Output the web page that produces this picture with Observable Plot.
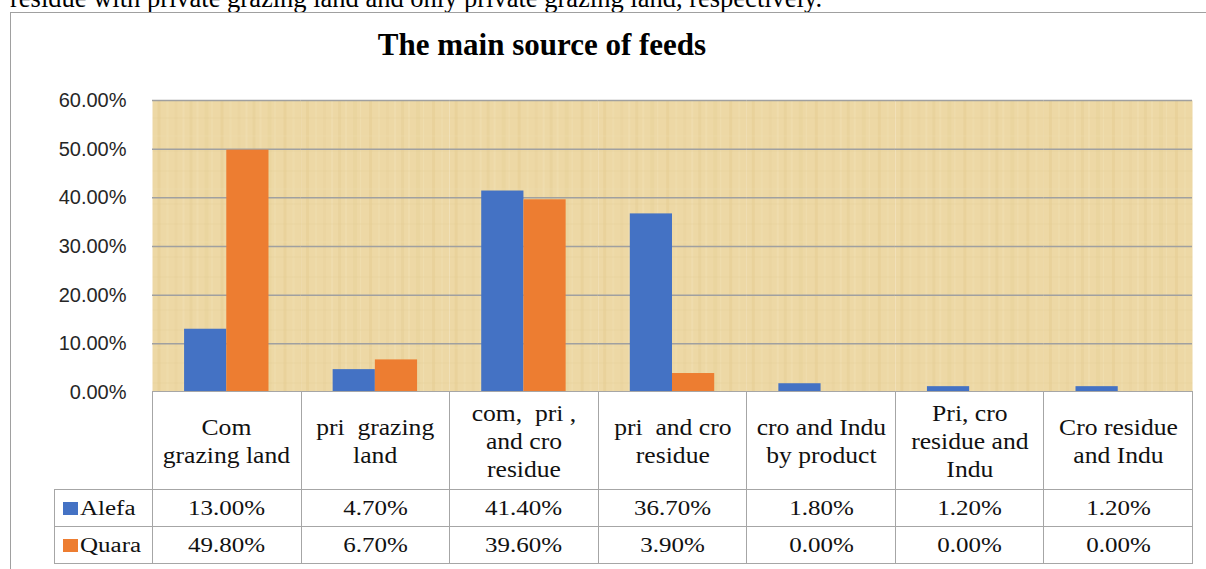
<!DOCTYPE html>
<html>
<head>
<meta charset="utf-8">
<script src="https://cdn.jsdelivr.net/npm/d3@7"></script>
<script src="https://cdn.jsdelivr.net/npm/@observablehq/plot@0.6"></script>
<style>
html, body { margin: 0; padding: 0; background: #fff; }
#wrap { position: relative; width: 1206px; height: 569px; overflow: hidden; }
#doc { position: absolute; left: 10px; top: -15px; font: 26.5px/26.5px "Liberation Serif", "Times New Roman", serif; white-space: nowrap; color: #000; }
#box { position: absolute; left: 10px; top: 12px; width: 1300px; height: 700px; border-top: 1.5px solid #a0a0a0; border-left: 1.5px solid #a0a0a0; box-sizing: border-box; }
#title { position: absolute; left: 542px; top: 29px; transform: translateX(-50%); font: bold 31px/31px "Liberation Serif", "Times New Roman", serif; white-space: nowrap; color: #000; }
#chart { position: absolute; left: 0; top: 0; }
#tbl { position: absolute; left: 54px; top: 391px; width: 1138px; border-collapse: collapse; table-layout: fixed; font-family: "Liberation Serif", "Times New Roman", serif; color: #111; background: transparent; }
#tbl td { border: 1.5px solid #a6a6a6; text-align: center; vertical-align: middle; padding: 0; background: #fff; }
#tbl td.blank { border: none; background: transparent; }
#tbl tr.head td { height: 97px; font-size: 23.5px; line-height: 28px; white-space: pre; }
#tbl tr.head td span { display: inline-block; transform: scaleX(1.09); }
#tbl tr.val td { height: 36px; font-size: 20.5px; line-height: 24px; }
#tbl tr.val td span.t { display: inline-block; transform: scaleX(1.22); }
#tbl td.leg { text-align: left; padding-left: 8px; font-size: 21px; white-space: nowrap; }
#tbl td.leg span.t { transform-origin: left center; }
.sw { display: inline-block; width: 15px; height: 13px; margin-right: 2px; vertical-align: 0px; }
</style>
</head>
<body>
<div id="wrap">
  <div id="doc">residue with private grazing land and only private grazing land, respectively.</div>
  <div id="box"></div>
  <div id="chartHolder"></div>
  <div id="title">The main source of feeds</div>
  <table id="tbl"></table>
</div>
<script>
// ---- data ----
const categories = [
  "Com\ngrazing land",
  "pri  grazing\nland",
  "com,  pri ,\nand cro\nresidue",
  "pri  and cro\nresidue",
  "cro and Indu\nby product",
  "Pri, cro\nresidue and\nIndu",
  "Cro residue\nand Indu"
];
const alefa = [13.0, 4.7, 41.4, 36.7, 1.8, 1.2, 1.2];
const quara = [49.8, 6.7, 39.6, 3.9, 0.0, 0.0, 0.0];
const seriesNames = ["Alefa", "Quara"];
const seriesColors = ["#4472C4", "#ED7D31"];
const yTicks = [0, 0.1, 0.2, 0.3, 0.4, 0.5, 0.6];

const seriesValues = {Alefa: alefa, Quara: quara};
const rows = categories.flatMap((c, i) =>
  seriesNames.map(s => ({category: c, series: s, value: seriesValues[s][i] / 100}))
);
const pct = d3.format(".2%");

const chart = Plot.plot({
  width: 1206,
  height: 392,
  marginLeft: 152,
  marginRight: 14,
  marginTop: 100,
  marginBottom: 0,
  style: {fontSize: "20px", fontFamily: "'Liberation Sans', Arial, sans-serif", color: "#262626", background: "transparent", overflow: "visible"},
  fx: {domain: categories, padding: 0, round: false, axis: null},
  x: {domain: seriesNames, paddingInner: 0, paddingOuter: 0.76, round: false, axis: null},
  y: {domain: [0, 0.6], ticks: yTicks, tickFormat: pct, tickSize: 0, tickPadding: 26, label: null},
  color: {domain: seriesNames, range: seriesColors},
  marks: [
    Plot.frame({fill: "#ebd5a0", stroke: "none"}),
    Plot.gridY(yTicks, {stroke: "#a0a0a0", strokeOpacity: 1, strokeWidth: 1.5}),
    Plot.barY(rows, {fx: "category", x: "series", y: "value", fill: "series"})
  ]
});
chart.id = "chart";
document.getElementById("chartHolder").appendChild(chart);

// parchment-like texture for the plot background
const svg = d3.select(chart);
const defs = svg.insert("defs", ":first-child");
const pat = defs.append("pattern").attr("id", "parch").attr("patternUnits", "userSpaceOnUse")
  .attr("width", 63).attr("height", 53);
pat.append("rect").attr("width", 63).attr("height", 53).attr("fill", "#edd8a5");
const stripes = [[0, 3, "#e4cb90"], [7, 2, "#f2e1b6"], [15, 4, "#e7cf97"], [22, 1, "#f3e3bb"], [31, 3, "#e3c98d"], [40, 2, "#f1dfb1"], [48, 3, "#e8d09a"], [56, 2, "#f2e2b8"]];
stripes.forEach(([x, w, c]) => pat.append("rect").attr("x", x).attr("y", 0).attr("width", w).attr("height", 53).attr("fill", c).attr("opacity", 0.4));
[[11, "#dfc78f"], [29, "#f0dfb3"], [44, "#e0c891"]].forEach(([y, c]) => pat.append("rect").attr("x", 0).attr("y", y).attr("width", 63).attr("height", 1).attr("fill", c).attr("opacity", 0.3));
svg.selectAll("g[aria-label=frame] rect").attr("fill", "url(#parch)");

// data table under the chart
const tbl = d3.select("#tbl");
const cg = tbl.append("colgroup");
cg.append("col").style("width", "98px");
categories.forEach(() => cg.append("col").style("width", "148.57px"));
const head = tbl.append("tr").attr("class", "head");
head.append("td").attr("class", "blank");
categories.forEach(c => head.append("td").append("span").text(c));
seriesNames.forEach((s, si) => {
  const tr = tbl.append("tr").attr("class", "val");
  const leg = tr.append("td").attr("class", "leg");
  leg.append("span").attr("class", "sw").style("background", seriesColors[si]);
  leg.append("span").attr("class", "t").text(s);
  seriesValues[s].forEach(v => tr.append("td").append("span").attr("class", "t").text(pct(v / 100)));
});
</script>
</body>
</html>
